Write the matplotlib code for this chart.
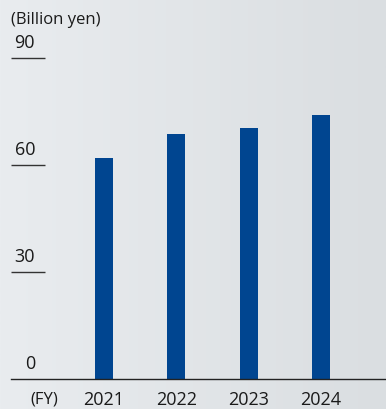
import matplotlib
matplotlib.use("Agg")
import matplotlib.pyplot as plt
import numpy as np
from matplotlib.colors import LinearSegmentedColormap
from matplotlib.transforms import blended_transform_factory

plt.rcParams['font.family'] = ['Open Sans', 'DejaVu Sans']

years = ["2021", "2022", "2023", "2024"]
values = [61.9, 68.6, 70.3, 74.0]
yticks = [0, 30, 60, 90]
unit_label = "(Billion yen)"
fy_label = "(FY)"

W, H, DPI = 386, 409, 100
fig = plt.figure(figsize=(W / DPI, H / DPI), dpi=DPI)

# background gradient
bg = fig.add_axes([0, 0, 1, 1], zorder=0)
cmap = LinearSegmentedColormap.from_list("bg", ["#e9ecef", "#dadee1"])
grad = np.linspace(0, 1, 256).reshape(1, -1)
bg.imshow(grad, cmap=cmap, aspect="auto", extent=[0, 1, 0, 1])
bg.set_axis_off()

# main axes positioned in pixel coordinates
left_px, right_px = 11, 385
base_px, top_px = 378.5, 57.8
ax = fig.add_axes([left_px / W, (H - base_px) / H,
                   (right_px - left_px) / W, (base_px - top_px) / H], zorder=1)
ax.patch.set_alpha(0)

x = np.arange(len(years))
spacing = 72.3
ax.set_xlim((left_px - 104) / spacing, (right_px - 104) / spacing)
ax.set_ylim(0, 90)
ax.bar(x, values, width=0.25, color="#004590", zorder=2)

for s in ["top", "right", "left"]:
    ax.spines[s].set_visible(False)
ax.spines["bottom"].set_color("#222222")
ax.spines["bottom"].set_linewidth(1.0)
ax.set_xticks([])
ax.set_yticks([])

fs = 13
tline = (45 - left_px) / (right_px - left_px)
trans = blended_transform_factory(ax.transAxes, ax.transData)
for t in yticks:
    if t != 0:
        ax.plot([0, tline], [t, t], transform=trans, color="#333333",
                lw=1.0, clip_on=False, solid_capstyle="butt")
    ax.annotate(str(t), xy=(0, t), xycoords=trans,
                xytext=(35 - left_px, 14.5), textcoords="offset pixels",
                ha="right", va="center", fontsize=fs, color="#1a1a1a")

for xi, yr in zip(x, years):
    ax.annotate(yr, xy=(xi, 0), xycoords="data",
                xytext=(0, -21.5), textcoords="offset pixels",
                ha="center", va="center", fontsize=fs, color="#1a1a1a")

ax.annotate(fy_label, xy=(0, 0), xycoords=trans,
            xytext=(44.5 - left_px, -21.5), textcoords="offset pixels",
            ha="center", va="center", fontsize=12, color="#1a1a1a")

fig.text(11 / W, 1 - 20 / H, unit_label, ha="left", va="center",
         fontsize=12, color="#1a1a1a")

fig.savefig("out.png", dpi=DPI)
